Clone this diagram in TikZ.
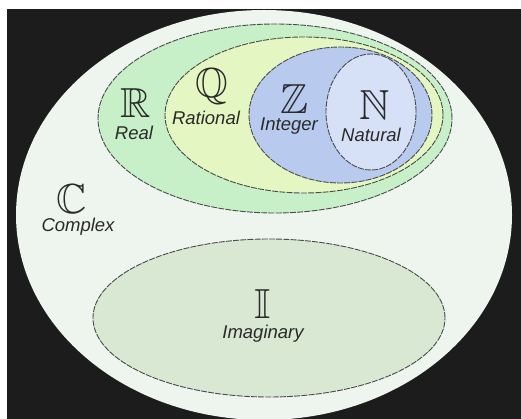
\documentclass[tikz,border=0pt]{standalone}
\usepackage{amssymb}
\usepackage{fontspec}
\setmainfont{Liberation Sans}
\definecolor{bgblack}{HTML}{1C1C1C}
\definecolor{cfill}{HTML}{EEF4EE}
\definecolor{rfill}{HTML}{C8F0C8}
\definecolor{qfill}{HTML}{E4F6C2}
\definecolor{zfill}{HTML}{B8CAEE}
\definecolor{nfill}{HTML}{D6E0F6}
\definecolor{ifill}{HTML}{D8E8D2}
\definecolor{edge}{HTML}{4A4A4A}
\definecolor{txt}{HTML}{2A2A2A}
\tikzset{
  setedge/.style={draw=edge, line width=0.9pt, dash pattern=on 6pt off 1.2pt},
  bblabel/.style={inner sep=0pt, text=txt, font=\fontsize{42}{42}\selectfont},
  namelabel/.style={inner sep=0pt, text=txt, font=\fontsize{18.5}{19}\selectfont\itshape},
}
\begin{document}
\begin{tikzpicture}[x=1pt,y=-1pt]
\useasboundingbox (0,0) rectangle (521,419);
\fill[white] (0,0) rectangle (521,419);
\fill[bgblack] (7,9) rectangle (521,419);
\begin{scope}
\clip (7,9) rectangle (521,419);
\fill[cfill] (264,215) ellipse [x radius=248pt, y radius=205pt];
\end{scope}
% Real
\path[fill=rfill, setedge] (275,118.5) ellipse [x radius=177pt, y radius=94.5pt];
% Rational
\path[fill=qfill, setedge] (304,115) ellipse [x radius=139pt, y radius=78pt];
% Integer
\path[fill=zfill, setedge] (340.5,115) ellipse [x radius=91.5pt, y radius=68pt];
% Natural
\path[fill=nfill, setedge] (371,112) ellipse [x radius=45pt, y radius=58pt];
% Imaginary
\path[fill=ifill, setedge] (269,318) ellipse [x radius=176pt, y radius=79pt];
% labels
\node[bblabel] (Rsym) at (136,103) {$\mathbb{R}$};
\node[namelabel] (Rname) at (134,133) {Real};
\node[bblabel] (Qsym) at (212,87) {$\mathbb{Q}$};
\node[namelabel] (Qname) at (206,118) {Rational};
\node[bblabel] (Zsym) at (294,99) {$\mathbb{Z}$};
\node[namelabel] (Zname) at (289,126) {Integer};
\node[bblabel] (Nsym) at (375,105) {$\mathbb{N}$};
\node[namelabel] (Nname) at (371,135) {Natural};
\node[bblabel] (Csym) at (72,199) {$\mathbb{C}$};
\node[namelabel] (Cname) at (78,227) {Complex};
\node[bblabel] (Isym) at (263,304) {$\mathbb{I}$};
\node[namelabel] (Iname) at (263,334) {Imaginary};
\end{tikzpicture}
\end{document}
